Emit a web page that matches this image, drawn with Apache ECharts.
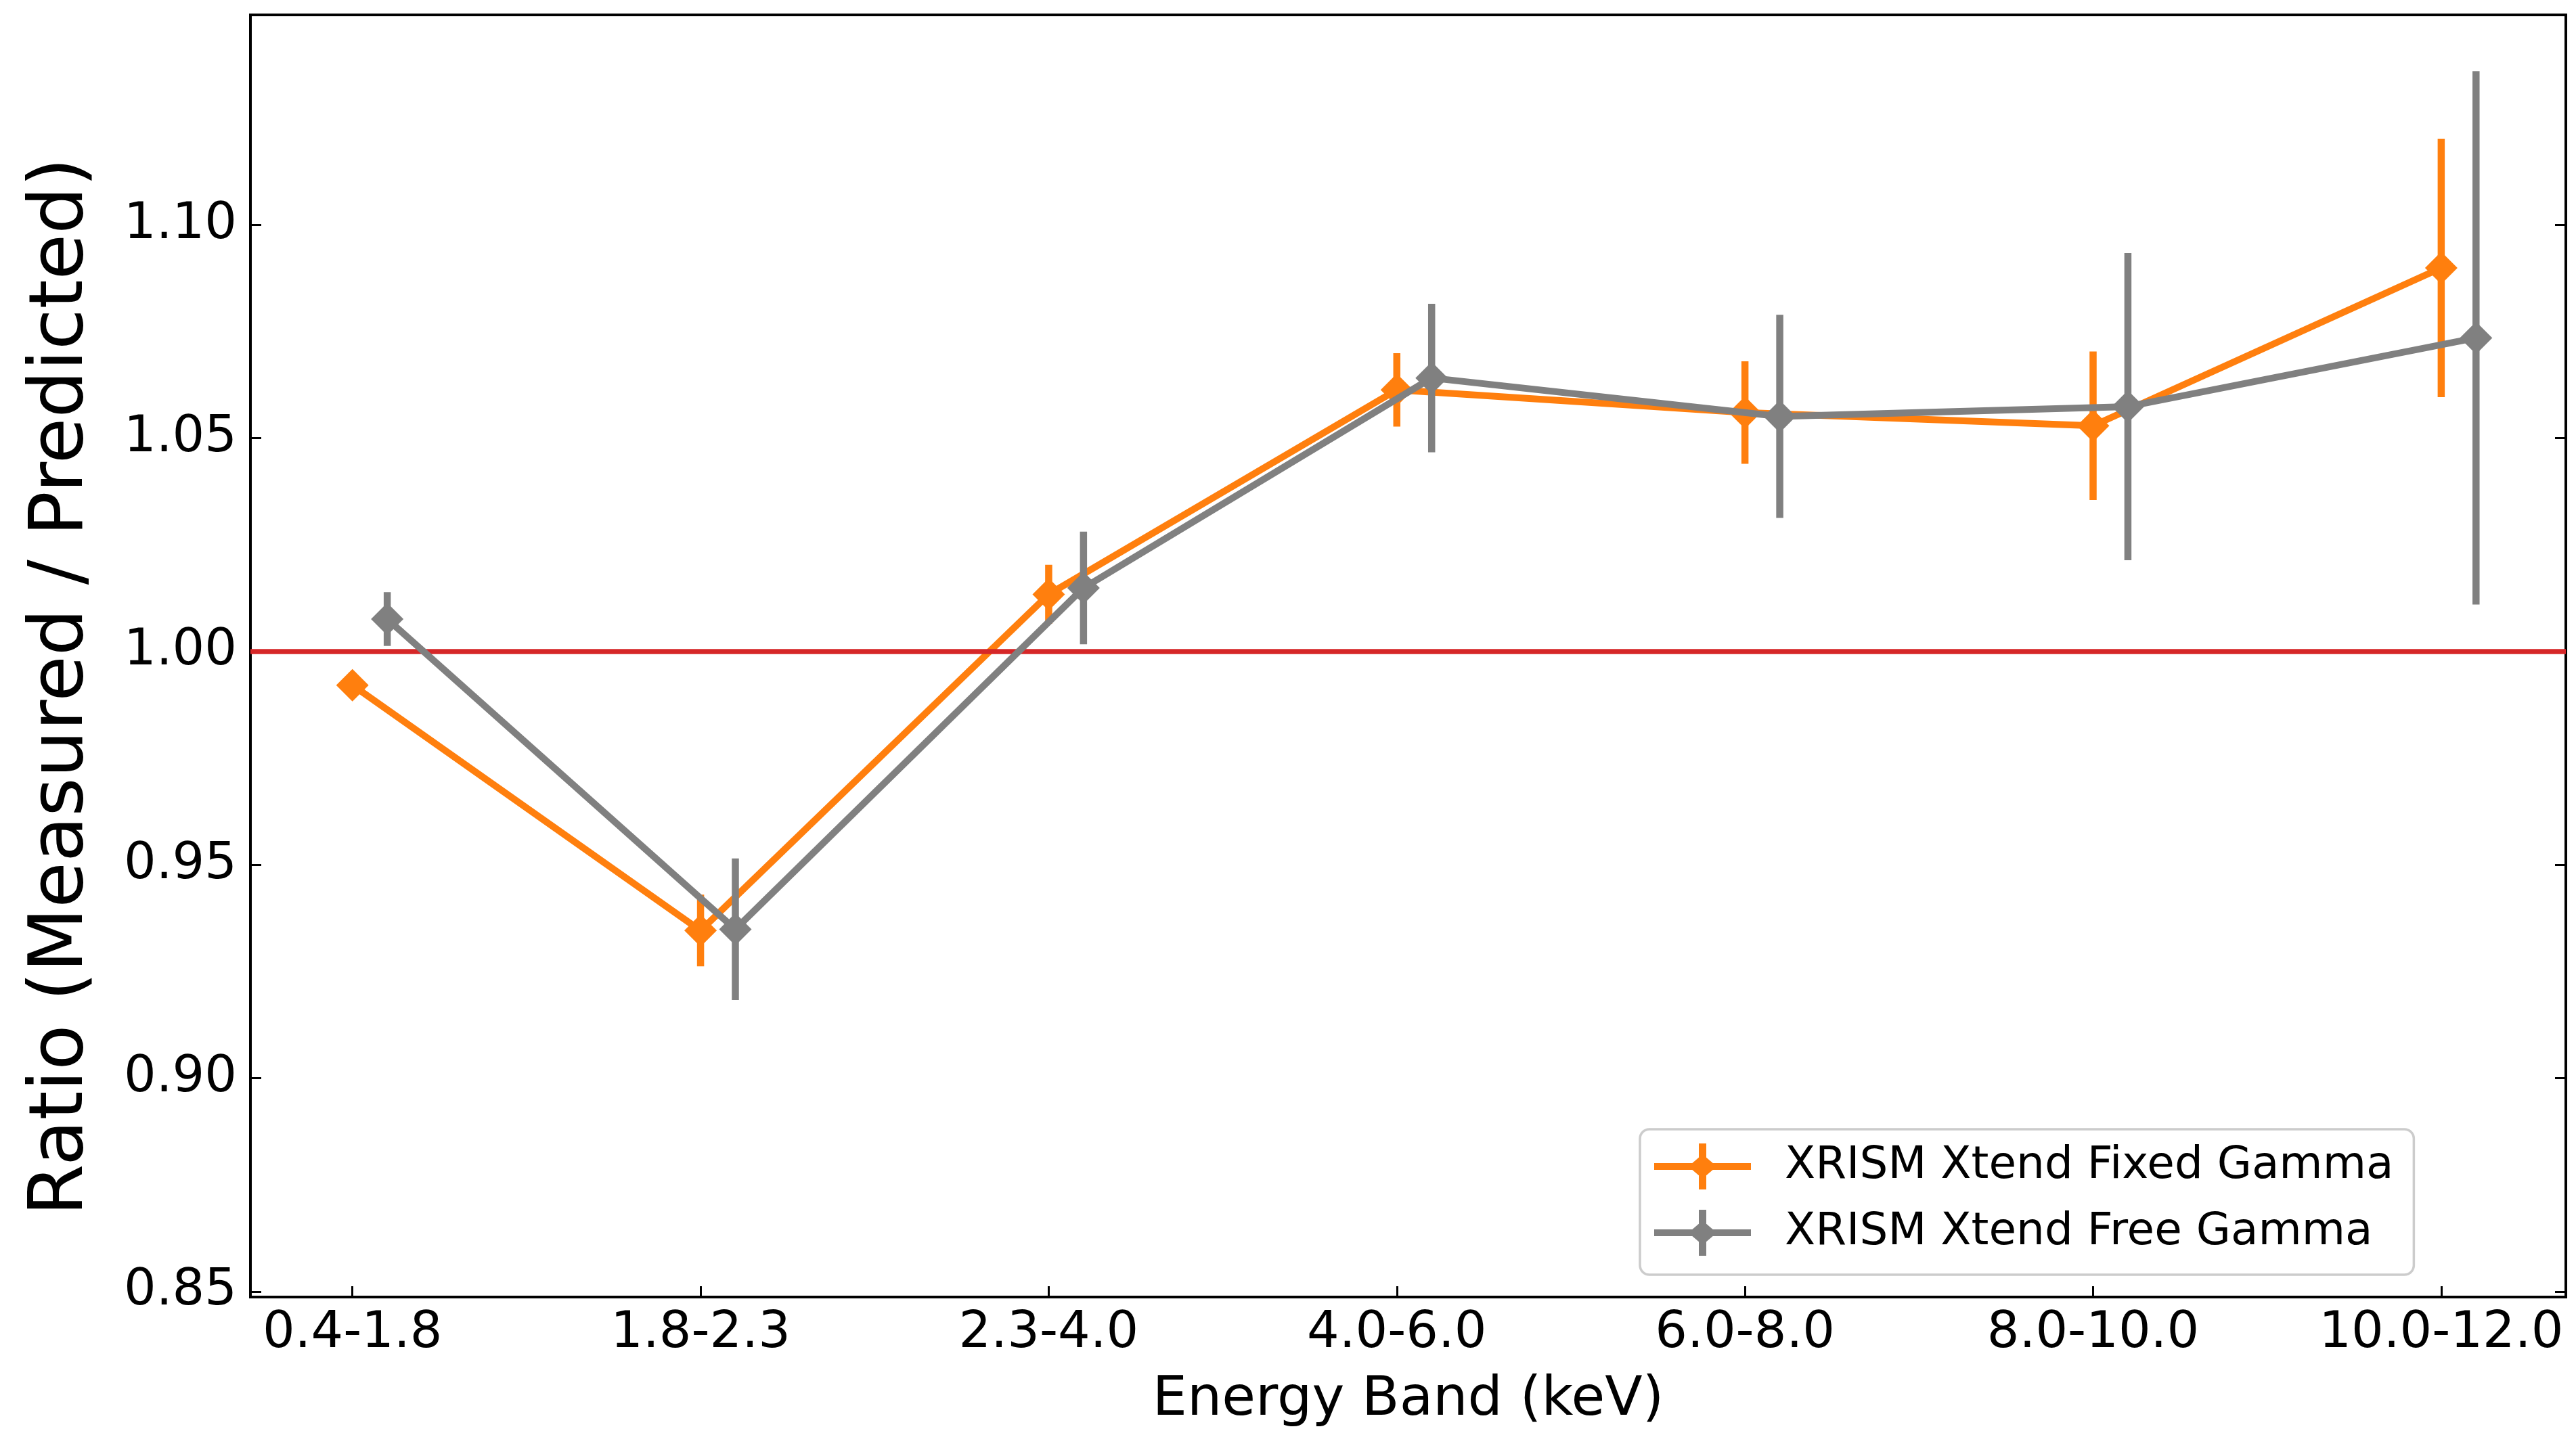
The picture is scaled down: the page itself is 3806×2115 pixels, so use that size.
<!DOCTYPE html>
<html>
<head>
<meta charset="utf-8">
<script src="https://cdn.jsdelivr.net/npm/echarts@6/dist/echarts.min.js"></script>
<style>
html,body{margin:0;padding:0;background:#fff;}
#chart{width:3806px;height:2115px;}
</style>
</head>
<body>
<div id="chart"></div>
<script>
// ---- data ----
const categories = ['0.4-1.8', '1.8-2.3', '2.3-4.0', '4.0-6.0', '6.0-8.0', '8.0-10.0', '10.0-12.0'];
const fixedName = 'XRISM Xtend Fixed Gamma';
const freeName = 'XRISM Xtend Free Gamma';
const fixedRatio = [0.9921, 0.9346, 1.0134, 1.0613, 1.0560, 1.0529, 1.0899];
const fixedErr   = [0.0030, 0.0084, 0.0069, 0.0086, 0.0120, 0.0174, 0.0303];
const freeRatio  = [1.0076, 0.9349, 1.0149, 1.0641, 1.0551, 1.0574, 1.0735];
const freeErr    = [0.0063, 0.0166, 0.0132, 0.0174, 0.0238, 0.0360, 0.0625];
const freeOffset = 0.1;
const yTicks = [0.85, 0.90, 0.95, 1.00, 1.05, 1.10];
const referenceRatio = 1.0;

const xTickValues = categories.map((c, i) => i);
const fixedPts = fixedRatio.map((v, i) => [i, v]);
const freePts = freeRatio.map((v, i) => [i + freeOffset, v]);
const fixedErrRows = fixedRatio.map((v, i) => [i, v, fixedErr[i]]);
const freeErrRows = freeRatio.map((v, i) => [i + freeOffset, v, freeErr[i]]);

const ORANGE = '#ff7f0e';
const GRAY = '#808080';
const FONT = 'DejaVu Sans';

function errRender(color) {
  return function (params, api) {
    const x = api.value(0), y = api.value(1), e = api.value(2);
    const p1 = api.coord([x, y - e]);
    const p2 = api.coord([x, y + e]);
    return {
      type: 'line',
      shape: { x1: p1[0], y1: p1[1], x2: p2[0], y2: p2[1] },
      style: { stroke: color, lineWidth: 10.5, lineCap: 'butt' }
    };
  };
}

const legendIcon = 'path://M0 29 H143 V39 H0 Z M66 0 H77 V68 H66 Z M50.5 34 L71.5 16 L92.5 34 L71.5 52 Z';

const chart = echarts.init(document.getElementById('chart'), null, { renderer: 'canvas' });
chart.setOption({
  animation: false,
  backgroundColor: '#ffffff',
  textStyle: { fontFamily: FONT },
  grid: {
    left: 370, right: 15, top: 22, bottom: 191,
    show: true, borderColor: '#000', borderWidth: 4, backgroundColor: 'transparent'
  },
  legend: {
    orient: 'vertical',
    left: 2423, top: 1669,
    data: [fixedName, freeName],
    icon: legendIcon,
    itemWidth: 143, itemHeight: 68, itemGap: 30,
    padding: [21, 30, 28, 21],
    backgroundColor: '#ffffff',
    borderColor: '#cccccc', borderWidth: 3.5, borderRadius: 14,
    textStyle: { fontSize: 66, color: '#000', fontFamily: FONT, padding: [4, 0, 0, 45] }
  },
  xAxis: {
    type: 'value',
    min: -0.293, max: 6.358,
    name: 'Energy Band (keV)',
    nameLocation: 'middle',
    nameGap: 112,
    nameTextStyle: { fontSize: 81, color: '#000', fontFamily: FONT },
    axisLine: { show: false, onZero: false },
    splitLine: { show: false },
    axisTick: { show: true, inside: true, length: 16, lineStyle: { color: '#000', width: 3 }, customValues: xTickValues },
    axisLabel: {
      show: true, fontSize: 75, color: '#000', fontFamily: FONT, margin: 17,
      customValues: xTickValues,
      formatter: v => categories[Math.round(v)] || ''
    }
  },
  yAxis: [{
    type: 'value',
    position: 'left',
    min: 0.8487, max: 1.1492,
    axisLine: { show: false, onZero: false },
    splitLine: { show: false },
    axisTick: { show: true, inside: true, length: 16, lineStyle: { color: '#000', width: 3 }, customValues: yTicks },
    axisLabel: {
      show: true, fontSize: 75, color: '#000', fontFamily: FONT, margin: 20,
      customValues: yTicks,
      formatter: v => v.toFixed(2)
    }
  }, {
    type: 'value',
    position: 'right',
    min: 0.8487, max: 1.1492,
    axisLine: { show: false, onZero: false },
    splitLine: { show: false },
    axisTick: { show: true, inside: true, length: 16, lineStyle: { color: '#000', width: 3 }, customValues: yTicks },
    axisLabel: { show: false, customValues: yTicks }
  }],
  graphic: [{
    type: 'text',
    x: 92, y: 1015,
    rotation: Math.PI / 2,
    style: {
      text: 'Ratio (Measured / Predicted)',
      fontSize: 110, fontFamily: FONT, fill: '#000',
      textAlign: 'center', textVerticalAlign: 'middle'
    }
  }],
  series: [{
    name: 'ref',
    type: 'line',
    data: [],
    z: 1,
    markLine: {
      silent: true, symbol: 'none', label: { show: false },
      lineStyle: { color: '#d62728', width: 7.5, type: 'solid' },
      data: [{ yAxis: referenceRatio }]
    }
  }, {
    name: fixedName,
    type: 'custom',
    z: 2,
    itemStyle: { color: ORANGE },
    data: fixedErrRows,
    encode: { x: 0, y: 1 },
    renderItem: errRender(ORANGE)
  }, {
    name: fixedName,
    type: 'line',
    z: 3,
    data: fixedPts,
    symbol: 'diamond', symbolSize: 48, showAllSymbol: true,
    itemStyle: { color: ORANGE, borderWidth: 0 },
    lineStyle: { color: ORANGE, width: 10 }
  }, {
    name: freeName,
    type: 'custom',
    z: 4,
    itemStyle: { color: GRAY },
    data: freeErrRows,
    encode: { x: 0, y: 1 },
    renderItem: errRender(GRAY)
  }, {
    name: freeName,
    type: 'line',
    z: 5,
    data: freePts,
    symbol: 'diamond', symbolSize: 48, showAllSymbol: true,
    itemStyle: { color: GRAY, borderWidth: 0 },
    lineStyle: { color: GRAY, width: 10 }
  }]
});
</script>
</body>
</html>
